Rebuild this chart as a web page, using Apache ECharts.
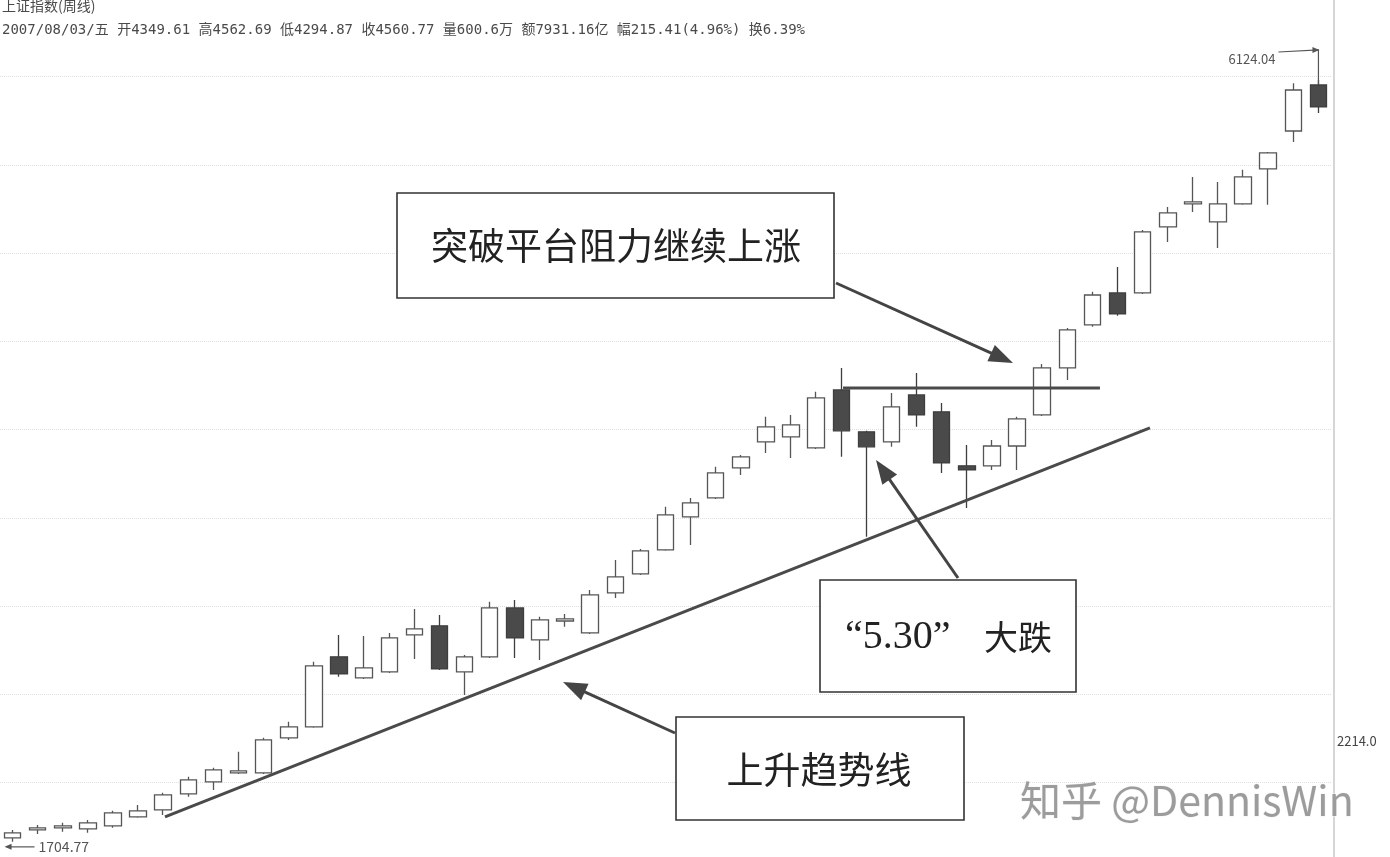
<!DOCTYPE html>
<html>
<head>
<meta charset="utf-8">
<script src="https://cdn.jsdelivr.net/npm/echarts@6/dist/echarts.min.js"></script>
<style>
html,body{margin:0;padding:0;background:#fff;}
#c{width:1390px;height:857px;}
</style>
</head>
<body>
<div id="c"></div>
<script>
// ---- data (weekly candles) ----
const categories = [
  '2006/09/22','2006/09/29','2006/10/13','2006/10/20','2006/10/27','2006/11/03','2006/11/10','2006/11/17',
  '2006/11/24','2006/12/01','2006/12/08','2006/12/15','2006/12/22','2006/12/29','2007/01/05','2007/01/12',
  '2007/01/19','2007/01/26','2007/02/02','2007/02/09','2007/02/16','2007/03/02','2007/03/09','2007/03/16',
  '2007/03/23','2007/03/30','2007/04/06','2007/04/13','2007/04/20','2007/04/27','2007/05/11','2007/05/18',
  '2007/05/25','2007/06/01','2007/06/08','2007/06/15','2007/06/22','2007/06/29','2007/07/06','2007/07/13',
  '2007/07/20','2007/07/27','2007/08/03','2007/08/10','2007/08/17','2007/08/24','2007/08/31','2007/09/07',
  '2007/09/14','2007/09/21','2007/09/28','2007/10/12','2007/10/19'
];
const opens  = [1728,1774,1786,1780,1798,1850,1890,1983,2053,2105,2105,2308,2372,2778,2656,2691,2905,2958,2691,2778,3062,2876,2986,2917,3149,3259,3398,3590,3700,3874,4025,4054,3990,4326,4083,4025,4297,4199,3886,3886,4001,4181,4454,4703,4889,4889,5272,5405,5301,5406,5608,5828,6095];
const closes = [1757,1786,1798,1815,1873,1885,1977,2064,2122,2117,2296,2372,2726,2679,2714,2888,2940,2708,2778,3062,2888,2992,2998,3137,3242,3393,3601,3671,3845,3938,4112,4123,4280,4089,3996,4228,4181,3903,3862,4001,4158,4454,4674,4877,4767,5243,5353,5417,5406,5562,5701,6066,5968];
const lows   = [1704.77,1751,1763,1757,1786,1844,1861,1966,2006,2099,2099,2296,2366,2662,2650,2685,2766,2702,2557,2772,2772,2760,2952,2911,3120,3253,3393,3427,3694,3833,3961,3932,3984,3938,3474,3996,4112,3845,3642,3862,3862,4175,4384,4692,4756,4883,5185,5359,5150,5400,5400,5765,5933];
const highs  = [1774,1803,1815,1832,1885,1919,1989,2082,2134,2227,2308,2401,2749,2905,2899,2917,3056,3021,2789,3097,3108,3010,3027,3166,3340,3404,3648,3700,3880,3949,4170,4181,4315,4454,4089,4309,4425,4251,4007,4036,4170,4477,4686,4895,5040,5254,5388,5562,5533,5603,5707,6105,6124.04];

// faint horizontal guide levels
const gridLevels = [2048, 2560, 3072, 3584, 4096, 4608, 5120, 5632, 6144];

// trend line (fractional week positions) and platform resistance line
const trendX = [6.07, 45.29];
const trendY = [1850, 4106];
const platformX = [33.07, 43.3];
const platformLevel = 4338;

// labels
const titleLine = '上证指数(周线)';
const infoLine = '2007/08/03/五 开4349.61 高4562.69 低4294.87 收4560.77 量600.6万 额7931.16亿 幅215.41(4.96%) 换6.39%';
const maxLabel = '6124.04';
const minLabel = '1704.77';
const sideLabel = '2214.0';
const noteBreak = '突破平台阻力继续上涨';
const noteCrashQuote = '“5.30”';
const noteCrashText = '大跌';
const noteTrend = '上升趋势线';
const watermark = '知乎 @DennisWin';

const chart = echarts.init(document.getElementById('c'), null, {renderer: 'canvas'});
const kData = categories.map((c, i) => [opens[i], closes[i], lows[i], highs[i]]);

const option = {
  animation: false,
  backgroundColor: '#ffffff',
  grid: {left: 0, top: 0, width: 1331, height: 857},
  xAxis: [
    {type: 'category', data: categories, boundaryGap: true, show: false},
    {type: 'value', min: -0.5, max: 52.5, show: false}
  ],
  yAxis: {
    type: 'value', position: 'right', min: 1617, max: 6588,
    axisLine: {show: false}, axisTick: {show: false}, axisLabel: {show: false},
    splitLine: {show: false}
  },
  series: [
    {
      type: 'line', xAxisIndex: 1, data: [], z: 1, silent: true, symbol: 'none',
      markLine: {
        z: 1, silent: true, symbol: 'none', label: {show: false},
        lineStyle: {color: '#e0e0e0', type: 'dotted', width: 1},
        data: gridLevels.map(v => ({yAxis: v}))
      }
    },
    {
      type: 'candlestick', data: kData, barWidth: 17, z: 3,
      itemStyle: {color: '#ffffff', color0: '#4a4a4a', borderColor: '#555555', borderColor0: '#3e3e3e', borderWidth: 1.3}
    },
    {
      type: 'line', xAxisIndex: 1, symbol: 'none', silent: true, z: 4,
      data: trendX.map((x, i) => [x, trendY[i]]),
      lineStyle: {color: '#4a4a4a', width: 3}
    },
    {
      type: 'line', xAxisIndex: 1, symbol: 'none', silent: true, z: 4,
      data: platformX.map(x => [x, platformLevel]),
      lineStyle: {color: '#4a4a4a', width: 3}
    }
  ]
};
chart.setOption(option);

function arrow(x1, y1, x2, y2, head, half, width, color) {
  const dx = x2 - x1, dy = y2 - y1, len = Math.hypot(dx, dy);
  const ux = dx / len, uy = dy / len, nx = -uy, ny = ux;
  const bx = x2 - ux * head, by = y2 - uy * head;
  return [
    {type: 'line', shape: {x1: x1, y1: y1, x2: bx + ux * 2, y2: by + uy * 2}, style: {stroke: color, lineWidth: width}},
    {type: 'polygon', shape: {points: [[x2, y2], [bx + nx * half, by + ny * half], [bx - nx * half, by - ny * half]]}, style: {fill: color}}
  ];
}
function box(x, y, w, h) {
  return {type: 'rect', shape: {x: x, y: y, width: w, height: h}, style: {fill: '#ffffff', stroke: '#333333', lineWidth: 1.6}};
}
function txt(t, x, y, font, color, align) {
  return {type: 'text', style: {text: t, x: x, y: y, font: font, fill: color, textAlign: align || 'left', align: align || 'left', textVerticalAlign: 'middle', verticalAlign: 'middle'}};
}

const maxIdx = highs.indexOf(Math.max(...highs));
const minIdx = lows.indexOf(Math.min(...lows));
const pMax = chart.convertToPixel({xAxisIndex: 0, yAxisIndex: 0}, [maxIdx, highs[maxIdx]]);
const pMin = chart.convertToPixel({xAxisIndex: 0, yAxisIndex: 0}, [minIdx, lows[minIdx]]);
const cjk = "'Noto Sans CJK SC'";
const mono = "'DejaVu Sans Mono', 'Noto Sans CJK SC'";

let els = [];
// header
els.push(txt(titleLine, 2, 6, '14px ' + cjk, '#4a4a4a'));
els.push(txt(infoLine, 2, 30, '14px ' + mono, '#4a4a4a'));
// right axis divider
els.push({type: 'line', shape: {x1: 1334, y1: 0, x2: 1334, y2: 857}, style: {stroke: '#d6d6d6', lineWidth: 2}});
els.push(txt(sideLabel, 1337, 741, '13px ' + cjk, '#444'));
// max marker
els.push({type: 'polyline', shape: {points: [[pMax[0] - 40, pMax[1] - 28], [pMax[0], pMax[1] - 30], [pMax[0], pMax[1] + 4]]}, style: {stroke: '#555', lineWidth: 1.2, fill: null}});
els.push({type: 'polygon', shape: {points: [[pMax[0] + 1, pMax[1] - 30], [pMax[0] - 6, pMax[1] - 33], [pMax[0] - 6, pMax[1] - 27]]}, style: {fill: '#555'}});
els.push(txt(maxLabel, pMax[0] - 43, pMax[1] - 21, '13px ' + cjk, '#555', 'right'));
// min marker
els.push({type: 'line', shape: {x1: pMin[0] - 6, y1: pMin[1] + 5, x2: pMin[0] + 22, y2: pMin[1] + 5}, style: {stroke: '#555', lineWidth: 1.2}});
els.push({type: 'polygon', shape: {points: [[pMin[0] - 8, pMin[1] + 5], [pMin[0] - 1, pMin[1] + 2], [pMin[0] - 1, pMin[1] + 8]]}, style: {fill: '#555'}});
els.push(txt(minLabel, pMin[0] + 26, pMin[1] + 5, '14px ' + cjk, '#555'));
// annotation boxes
els.push(box(397, 193, 437, 105));
els.push(txt(noteBreak, 616, 246, '37px ' + cjk, '#222', 'center'));
els.push(box(820, 580, 256, 112));
els.push(txt(noteCrashQuote, 845, 637, "40px 'Liberation Serif'", '#222'));
els.push(txt(noteCrashText, 984, 637, '34px ' + cjk, '#222'));
els.push(box(676, 717, 288, 103));
els.push(txt(noteTrend, 819, 770, '37px ' + cjk, '#222', 'center'));
// arrows
els = els.concat(arrow(836, 283, 1013, 363, 24, 9, 3, '#444'));
els = els.concat(arrow(958, 578, 876, 460, 24, 9, 3, '#444'));
els = els.concat(arrow(675, 733, 563, 682, 24, 9, 3, '#444'));
// watermark
els.push({type: 'text', style: {text: watermark, x: 1020, y: 800, font: '41px ' + cjk, fill: '#9c9c9c', stroke: '#f4f4f4', lineWidth: 1, textVerticalAlign: 'middle', verticalAlign: 'middle'}});

els.forEach(e => { e.z = 100; });
chart.setOption({graphic: {elements: els}});
</script>
</body>
</html>
